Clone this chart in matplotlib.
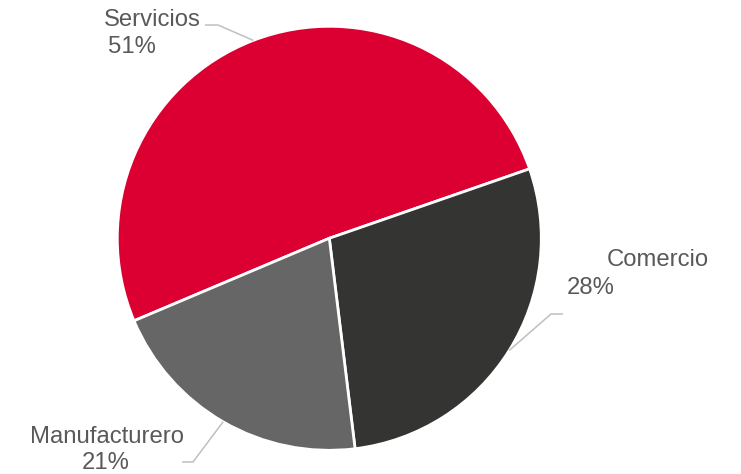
import matplotlib
matplotlib.use("Agg")
import matplotlib.pyplot as plt
import numpy as np

categories = ["Servicios", "Comercio", "Manufacturero"]
values = [51.1, 28.4, 20.6]
colors = ["#DC0032", "#343432", "#666666"]

W, H = 741, 474
CX, CY, R = 329.3, 238.3, 212.0  # pixel centre (from top) and radius

def d(px, py):
    return ((px - CX) / R, (CY - py) / R)

fig = plt.figure(figsize=(W / 100, H / 100), dpi=100)
ax = fig.add_axes([0, 0, 1, 1])
wedges, _ = ax.pie(values, colors=colors, startangle=202.9, counterclock=False,
                   radius=1.0, center=(0, 0),
                   wedgeprops=dict(edgecolor="white", linewidth=2.0))
ax.set_xlim(-CX / R, (W - CX) / R)
ax.set_ylim(-(H - CY) / R, CY / R)
ax.set_aspect("auto")
ax.axis("off")

total = sum(values)
pcts = ["%d%%" % int(round(v / total * 100)) for v in values]

txt_col = "#595959"
line_col = "#BFBFBF"
fs = 17.2
font = ["Liberation Sans", "DejaVu Sans"]

# label layout (pixel positions of line left/baselines, elbow of leader)
label_pos = [
    dict(name=(104, 26), pct=(108, 53), elbow=[(205, 25), (218, 25)]),
    dict(name=(607, 266), pct=(567, 294), elbow=[(563, 314), (551, 314)]),
    dict(name=(30, 443), pct=(82, 469), elbow=[(182, 462), (193, 462)]),
]

for w, cat, p, lp in zip(wedges, categories, pcts, label_pos):
    mid = np.deg2rad((w.theta1 + w.theta2) / 2)
    edge = (np.cos(mid), np.sin(mid))
    pts = [d(*lp["elbow"][0]), d(*lp["elbow"][1]), edge]
    ax.plot([q[0] for q in pts], [q[1] for q in pts], color=line_col, lw=1.1,
            solid_capstyle="butt", zorder=1)
    nx, ny = d(*lp["name"])
    ax.text(nx, ny, cat, ha="left", va="baseline", fontsize=fs, color=txt_col, family=font)
    px, py = d(*lp["pct"])
    ax.text(px, py, p, ha="left", va="baseline", fontsize=fs, color=txt_col, family=font)

fig.savefig("out.png", dpi=100)
